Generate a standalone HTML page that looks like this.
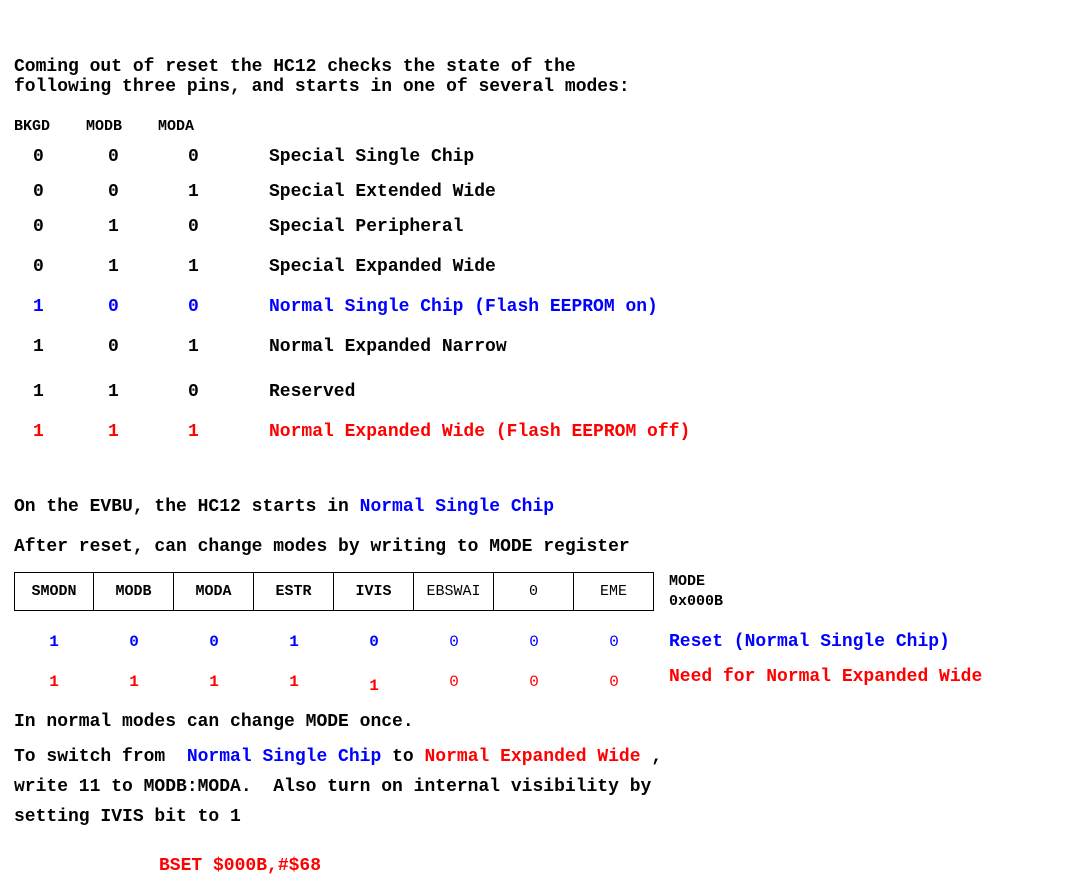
<!DOCTYPE html>
<html><head><meta charset="utf-8"><style>
body{margin:0;width:1067px;height:885px;background:#fff;position:relative;overflow:hidden;font-family:"Liberation Mono",monospace;font-weight:bold;font-size:18px;}
.t{position:absolute;line-height:20px;white-space:pre;}
.b{color:#0000ff}.r{color:#ff0000}
.cell{position:absolute;top:572px;width:80px;height:39px;border:1px solid #000;box-sizing:border-box;text-align:center;line-height:38px;font-size:15px;}
.n{font-weight:normal}
.v{position:absolute;width:80px;text-align:center;line-height:20px;font-size:16px}
</style></head><body>
<div class="t" style="left:14px;top:57px">Coming out of reset the HC12 checks the state of the
following three pins, and starts in one of several modes:</div>
<div class="t" style="left:14px;top:117px;font-size:15px">BKGD    MODB    MODA</div>
<div id="rows"></div>
<div class="t" style="left:14px;top:497px">On the EVBU, the HC12 starts in <span class="b">Normal Single Chip</span></div>
<div class="t" style="left:14px;top:537px">After reset, can change modes by writing to MODE register</div>
<div id="table"></div>
<div class="t" style="left:669px;top:572px;font-size:15px;line-height:20px">MODE
0x000B</div>
<div class="t b" style="left:669px;top:632px">Reset (Normal Single Chip)</div>
<div class="t r" style="left:669px;top:667px">Need for Normal Expanded Wide</div>
<div class="t" style="left:14px;top:712px">In normal modes can change MODE once.</div>
<div class="t" style="left:14px;top:747px">To switch from  <span class="b">Normal Single Chip</span> to <span class="r">Normal Expanded Wide</span> ,</div>
<div class="t" style="left:14px;top:777px">write 11 to MODB:MODA.  Also turn on internal visibility by</div>
<div class="t" style="left:14px;top:807px">setting IVIS bit to 1</div>
<div class="t r" style="left:159px;top:856px">BSET $000B,#$68</div>
<script>
const modeBits=[["0","0","0"],["0","0","1"],["0","1","0"],["0","1","1"],["1","0","0"],["1","0","1"],["1","1","0"],["1","1","1"]];
const modeNames=["Special Single Chip","Special Extended Wide","Special Peripheral","Special Expanded Wide","Normal Single Chip (Flash EEPROM on)","Normal Expanded Narrow","Reserved","Normal Expanded Wide (Flash EEPROM off)"];
const rowY=[157,192,227,267,307,347,392,432];
const colX=[39,114,194];
const rows=document.getElementById('rows');
modeBits.forEach((bits,i)=>{
  const cls=i===4?'b':i===7?'r':'';
  bits.forEach((b,j)=>{
    const d=document.createElement('div');
    d.className='t '+cls;d.style.left=(colX[j]-6)+'px';d.style.top=(rowY[i]-10)+'px';d.textContent=b;
    
    
    rows.appendChild(d);
  });
  const n=document.createElement('div');
  n.className='t '+cls;n.style.left='269px';n.style.top=(rowY[i]-10)+'px';n.textContent=modeNames[i];
  
  
  rows.appendChild(n);
});
const regBits=["SMODN","MODB","MODA","ESTR","IVIS","EBSWAI","0","EME"];
const resetVals=["1","0","0","1","0","0","0","0"];
const needVals=["1","1","1","1","1","0","0","0"];
const tb=document.getElementById('table');
regBits.forEach((b,i)=>{
  const c=document.createElement('div');
  c.className='cell'+(i>=5?' n':'');c.style.left=(14+i*80-(i>0?i:0)+i)+'px';c.textContent=b;
  if(i>0)c.style.borderLeft='none';
  
  
  tb.appendChild(c);
  const r=document.createElement('div');
  r.className='v b'+(i>=5?' n':'');r.style.left=(14+i*80)+'px';r.style.top='632px';r.textContent=resetVals[i];
  
  
  tb.appendChild(r);
  const q=document.createElement('div');
  q.className='v r'+(i>=5?' n':'');q.style.left=(14+i*80)+'px';q.style.top=(i===4?676:672)+'px';q.textContent=needVals[i];
  
  
  tb.appendChild(q);
});
</script>
</body></html>
